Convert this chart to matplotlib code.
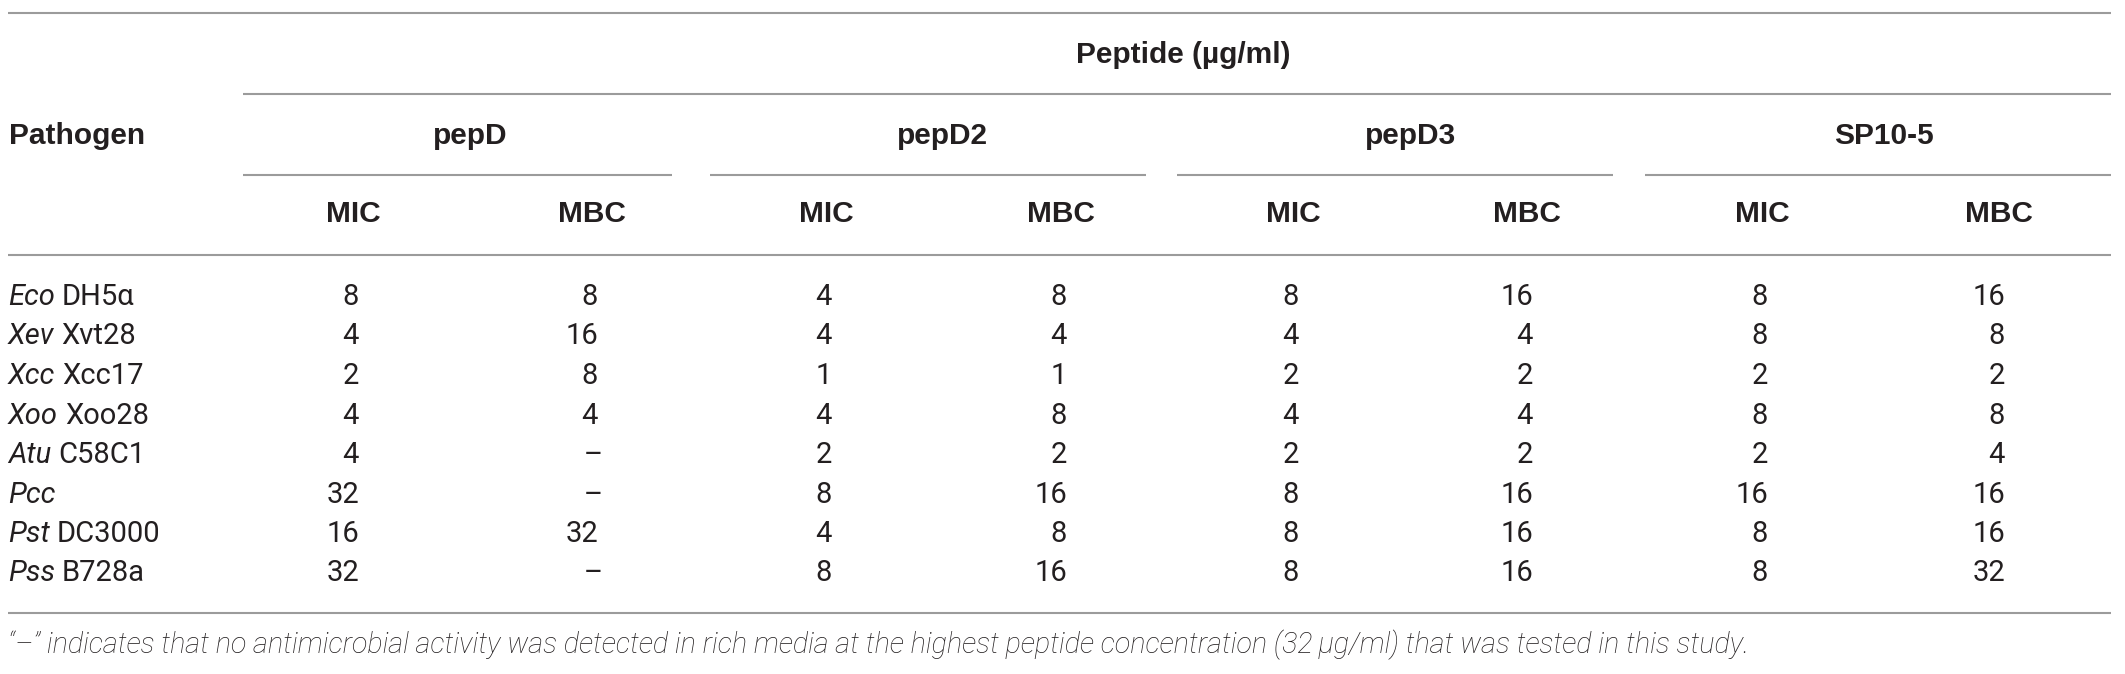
import matplotlib
matplotlib.use("Agg")
import matplotlib.pyplot as plt

# table content
pathogen_abbr = ["Eco", "Xev", "Xcc", "Xoo", "Atu", "Pcc", "Pst", "Pss"]
pathogen_strain = ["DH5α", "Xvt28", "Xcc17", "Xoo28", "C58C1", "", "DC3000", "B728a"]
peptides = ["pepD", "pepD2", "pepD3", "SP10-5"]
measures = ["MIC", "MBC"]

# None = no activity ("–")
pepD_mic = [8, 4, 2, 4, 4, 32, 16, 32]
pepD_mbc = [8, 16, 8, 4, None, None, 32, None]
pepD2_mic = [4, 4, 1, 4, 2, 8, 4, 8]
pepD2_mbc = [8, 4, 1, 8, 2, 16, 8, 16]
pepD3_mic = [8, 4, 2, 4, 2, 8, 8, 8]
pepD3_mbc = [16, 4, 2, 4, 2, 16, 16, 16]
sp105_mic = [8, 8, 2, 8, 2, 16, 8, 8]
sp105_mbc = [16, 8, 2, 8, 4, 16, 16, 32]
columns = [pepD_mic, pepD_mbc, pepD2_mic, pepD2_mbc,
           pepD3_mic, pepD3_mbc, sp105_mic, sp105_mbc]

footnote = ("\u201c\u2013\u201d indicates that no antimicrobial activity was detected in rich media "
            "at the highest peptide concentration (32\u2009\u00b5g/ml) that was tested in this study.")

W, H = 2125, 674
fig = plt.figure(figsize=(W / 100, H / 100), dpi=100)
ax = fig.add_axes([0, 0, 1, 1])
ax.set_xlim(0, W)
ax.set_ylim(H, 0)
ax.axis("off")

txt = "#231f20"
line_c = "#9b9b9b"
lw = 1.5
bold = dict(family="Liberation Sans", weight="bold", size=21.5, color=txt)
body = dict(family="Roboto", weight="normal", size=21, color=txt)

x_left, x_right = 8, 2111
col_x = [353, 592, 826, 1061, 1293, 1527, 1762, 1999]
group_x = [470, 943, 1411, 1884]
group_spans = [(243, 672), (710, 1146), (1177, 1613), (1645, 2111)]
row_y = [297, 336, 376, 416, 455, 495, 534, 573]

# rules
for y in [13, 254.5, 613]:
    ax.plot([x_left, x_right], [y, y], color=line_c, lw=lw, solid_capstyle="butt")
ax.plot([243, x_right], [94, 94], color=line_c, lw=lw, solid_capstyle="butt")
for a, b in group_spans:
    ax.plot([a, b], [175, 175], color=line_c, lw=lw, solid_capstyle="butt")

# header
ax.text(1183, 55, "Peptide (\u00b5g/ml)", ha="center", va="center", **bold)
ax.text(9, 136, "Pathogen", ha="left", va="center", **bold)
for gx, name in zip(group_x, peptides):
    ax.text(gx, 136, name, ha="center", va="center", **bold)
for i, cx in enumerate(col_x):
    ax.text(cx, 214, measures[i % 2], ha="center", va="center", **bold)

# rows: italic species abbreviation, then strain in roman
for y, abbr, strain in zip(row_y, pathogen_abbr, pathogen_strain):
    t = ax.text(8, y, abbr, ha="left", va="center", style="italic", **body)
    if strain:
        ax.annotate(strain, xy=(1, y), xycoords=(t, "data"), xytext=(5, 0),
                    textcoords="offset points", ha="left", va="center", **body)

for cx, vals in zip(col_x, columns):
    for y, v in zip(row_y, vals):
        if v is None:
            ax.text(cx + 1, y, "\u2013", ha="center", va="center", **body)
        else:
            ax.text(cx + 6, y, str(v), ha="right", va="center", **body)

# footnote, sized to span the same width as in the source table
fn = ax.text(8, 645, footnote, ha="left", va="center", style="italic",
             family="Roboto", weight="light", size=18, color=txt)
r = fig.canvas.get_renderer()
w = fn.get_window_extent(r).width
fn.set_fontsize(18 * 1742 / w)

fig.savefig("out.png", dpi=100)
